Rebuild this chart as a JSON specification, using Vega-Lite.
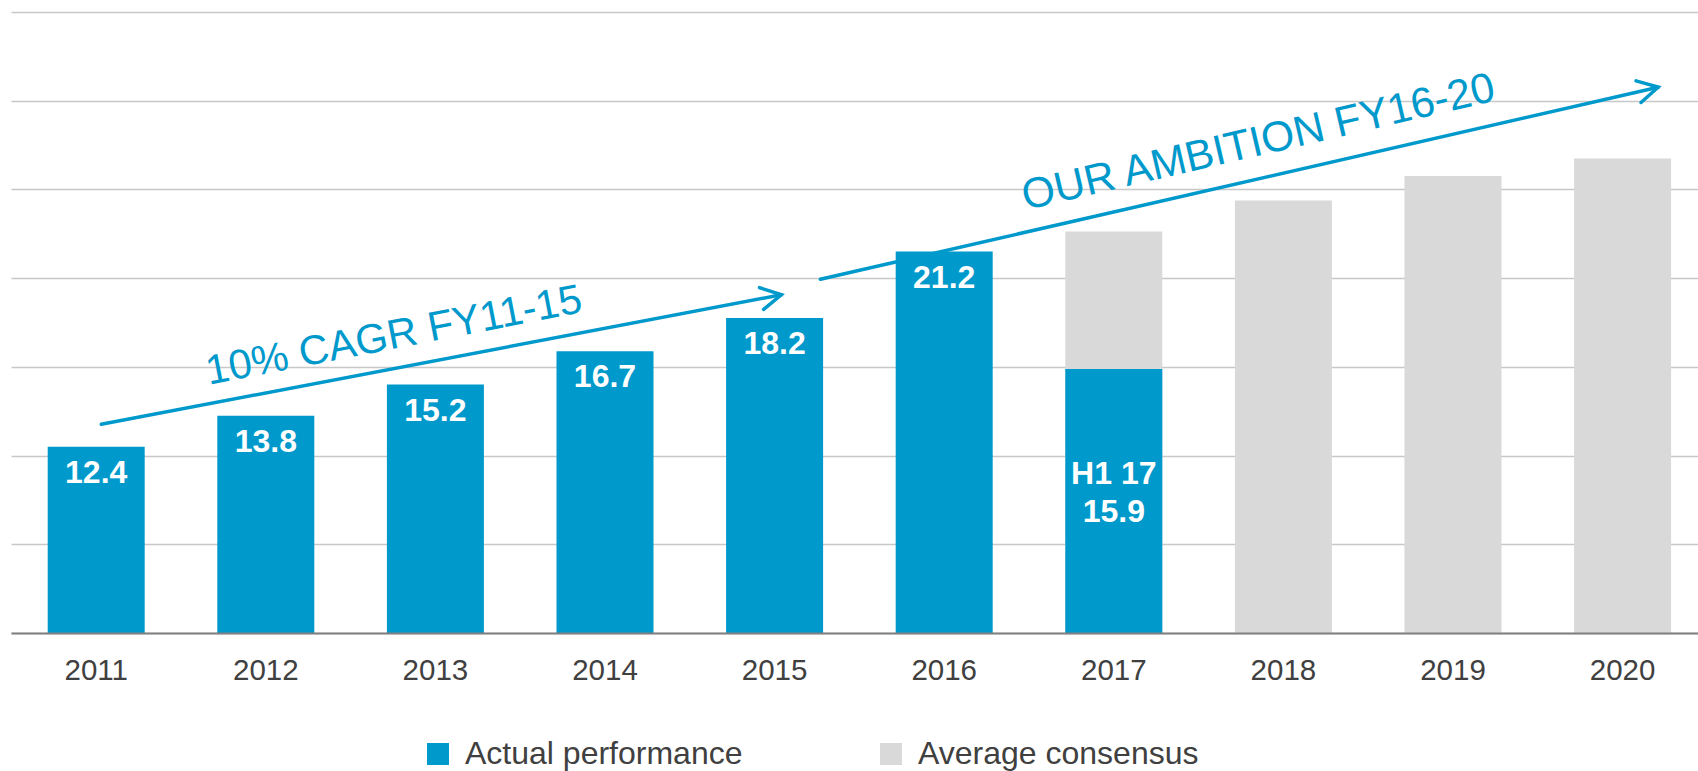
{
  "$schema": "https://vega.github.io/schema/vega-lite/v6.json",
  "autosize": {"type": "none"},
  "padding": {"left": 11, "top": 12, "right": 0, "bottom": 138},
  "width": 1687,
  "height": 621,
  "background": "white",
  "config": {"view": {"stroke": null}, "font": "Liberation Sans"},
  "datasets": {
    "bars": [
      {"year": "2017", "value": 22.1, "series": "Average consensus", "label": ""},
      {"year": "2018", "value": 23.5, "series": "Average consensus", "label": ""},
      {"year": "2019", "value": 24.6, "series": "Average consensus", "label": ""},
      {"year": "2020", "value": 25.4, "series": "Average consensus", "label": ""},
      {"year": "2011", "value": 12.4, "series": "Actual performance", "label": "12.4"},
      {"year": "2012", "value": 13.8, "series": "Actual performance", "label": "13.8"},
      {"year": "2013", "value": 15.2, "series": "Actual performance", "label": "15.2"},
      {"year": "2014", "value": 16.7, "series": "Actual performance", "label": "16.7"},
      {"year": "2015", "value": 18.2, "series": "Actual performance", "label": "18.2"},
      {"year": "2016", "value": 21.2, "series": "Actual performance", "label": "21.2"},
      {"year": "2017", "value": 15.9, "series": "Actual performance", "label": "H1 17\n15.9"}
    ],
    "arrows": [
      {"name": "cagr", "x1": 2011.03, "y1": 13.41, "x2": 2015.04, "y2": 19.25},
      {"name": "ambition", "x1": 2015.27, "y1": 19.95, "x2": 2020.21, "y2": 28.61}
    ],
    "captions": [
      {"name": "cagr", "text": "10% CAGR FY11-15", "x": 2012.77, "y": 16.84},
      {"name": "ambition", "text": "OUR AMBITION FY16-20", "x": 2017.87, "y": 25.55}
    ]
  },
  "layer": [
    {
      "data": {"name": "bars"},
      "encoding": {
        "x": {
          "field": "year",
          "type": "nominal",
          "scale": {"paddingInner": 0.428, "paddingOuter": 0.1875, "align": 0.577},
          "axis": {
            "title": null,
            "ticks": false,
            "tickSize": 0,
            "labelAngle": 0,
            "labelFontSize": 29.5,
            "labelFont": "Liberation Sans",
            "labelColor": "#404040",
            "labelPadding": 37,
            "labelBaseline": "middle",
            "domainColor": "#808080",
            "domainWidth": 2,
            "zindex": 1
          }
        },
        "y": {
          "field": "value",
          "type": "quantitative",
          "scale": {"domain": [4, 32], "zero": false, "nice": false},
          "axis": {
            "title": null,
            "values": [4, 8, 12, 16, 20, 24, 28, 32],
            "labels": false,
            "ticks": false,
            "domain": false,
            "grid": true,
            "gridColor": "#C8C8C8",
            "gridWidth": 1.5,
            "zindex": 0
          }
        }
      },
      "layer": [
        {
          "mark": {"type": "bar"},
          "encoding": {
            "y2": {"datum": 4},
            "color": {
              "field": "series",
              "type": "nominal",
              "scale": {"domain": ["Actual performance", "Average consensus"], "range": ["#0099CC", "#D9D9D9"]},
              "legend": {
                "orient": "none",
                "legendX": 411,
                "legendY": 726,
                "direction": "horizontal",
                "title": null,
                "padding": 0,
                "symbolType": "square",
                "symbolSize": 484,
                "symbolStrokeWidth": 0,
                "symbolOpacity": 1,
                "labelFontSize": 32,
                "labelFont": "Liberation Sans",
                "labelColor": "#404040",
                "labelOffset": 11,
                "columnPadding": 132,
                "labelLimit": 400
              }
            }
          }
        },
        {
          "transform": [{"filter": "datum.series == 'Actual performance' && datum.year != '2017'"}],
          "mark": {"type": "text", "color": "white", "fontWeight": "bold", "fontSize": 32, "baseline": "middle", "dy": 26, "font": "Liberation Sans"},
          "encoding": {"text": {"field": "label"}}
        },
        {
          "transform": [{"filter": "datum.series == 'Actual performance' && datum.year == '2017'"}],
          "mark": {"type": "text", "color": "white", "fontWeight": "bold", "fontSize": 32, "baseline": "middle", "dy": 105, "lineBreak": "\n", "lineHeight": 38, "font": "Liberation Sans"},
          "encoding": {"text": {"field": "label"}}
        }
      ]
    },
    {
      "layer": [
        {
          "data": {"name": "arrows"},
          "mark": {"type": "rule", "color": "#0099CC", "strokeWidth": 3.5, "strokeCap": "round"},
          "encoding": {
            "x": {"field": "x1", "type": "quantitative", "scale": {"domain": [2010.4976, 2020.4446], "zero": false, "nice": false}, "axis": null},
            "x2": {"field": "x2"},
            "y": {"field": "y1", "type": "quantitative", "scale": {"domain": [4, 32], "zero": false, "nice": false}, "axis": null},
            "y2": {"field": "y2"}
          }
        },
        {
          "data": {"name": "arrows"},
          "transform": [{"filter": "datum.name == 'cagr'"}],
          "mark": {"type": "point", "shape": "M-1,-0.55L0,0L-1,0.55", "size": 1630, "angle": 349.2, "filled": false, "strokeWidth": 3.5, "strokeCap": "round", "strokeJoin": "miter", "color": "#0099CC", "opacity": 1},
          "encoding": {
            "x": {"field": "x2", "type": "quantitative", "axis": null},
            "y": {"field": "y2", "type": "quantitative", "axis": null}
          }
        },
        {
          "data": {"name": "arrows"},
          "transform": [{"filter": "datum.name == 'ambition'"}],
          "mark": {"type": "point", "shape": "M-1,-0.55L0,0L-1,0.55", "size": 1630, "angle": 347.1, "filled": false, "strokeWidth": 3.5, "strokeCap": "round", "strokeJoin": "miter", "color": "#0099CC", "opacity": 1},
          "encoding": {
            "x": {"field": "x2", "type": "quantitative", "axis": null},
            "y": {"field": "y2", "type": "quantitative", "axis": null}
          }
        },
        {
          "data": {"name": "captions"},
          "transform": [{"filter": "datum.name == 'cagr'"}],
          "mark": {"type": "text", "color": "#0099CC", "fontSize": 41.5, "angle": 349, "align": "center", "baseline": "alphabetic", "font": "Liberation Sans"},
          "encoding": {
            "x": {"field": "x", "type": "quantitative", "axis": null},
            "y": {"field": "y", "type": "quantitative", "axis": null},
            "text": {"field": "text"}
          }
        },
        {
          "data": {"name": "captions"},
          "transform": [{"filter": "datum.name == 'ambition'"}],
          "mark": {"type": "text", "color": "#0099CC", "fontSize": 42.5, "angle": 346.9, "align": "center", "baseline": "alphabetic", "font": "Liberation Sans"},
          "encoding": {
            "x": {"field": "x", "type": "quantitative", "axis": null},
            "y": {"field": "y", "type": "quantitative", "axis": null},
            "text": {"field": "text"}
          }
        }
      ]
    }
  ],
  "resolve": {"scale": {"x": "independent"}, "axis": {"y": "independent"}}
}
